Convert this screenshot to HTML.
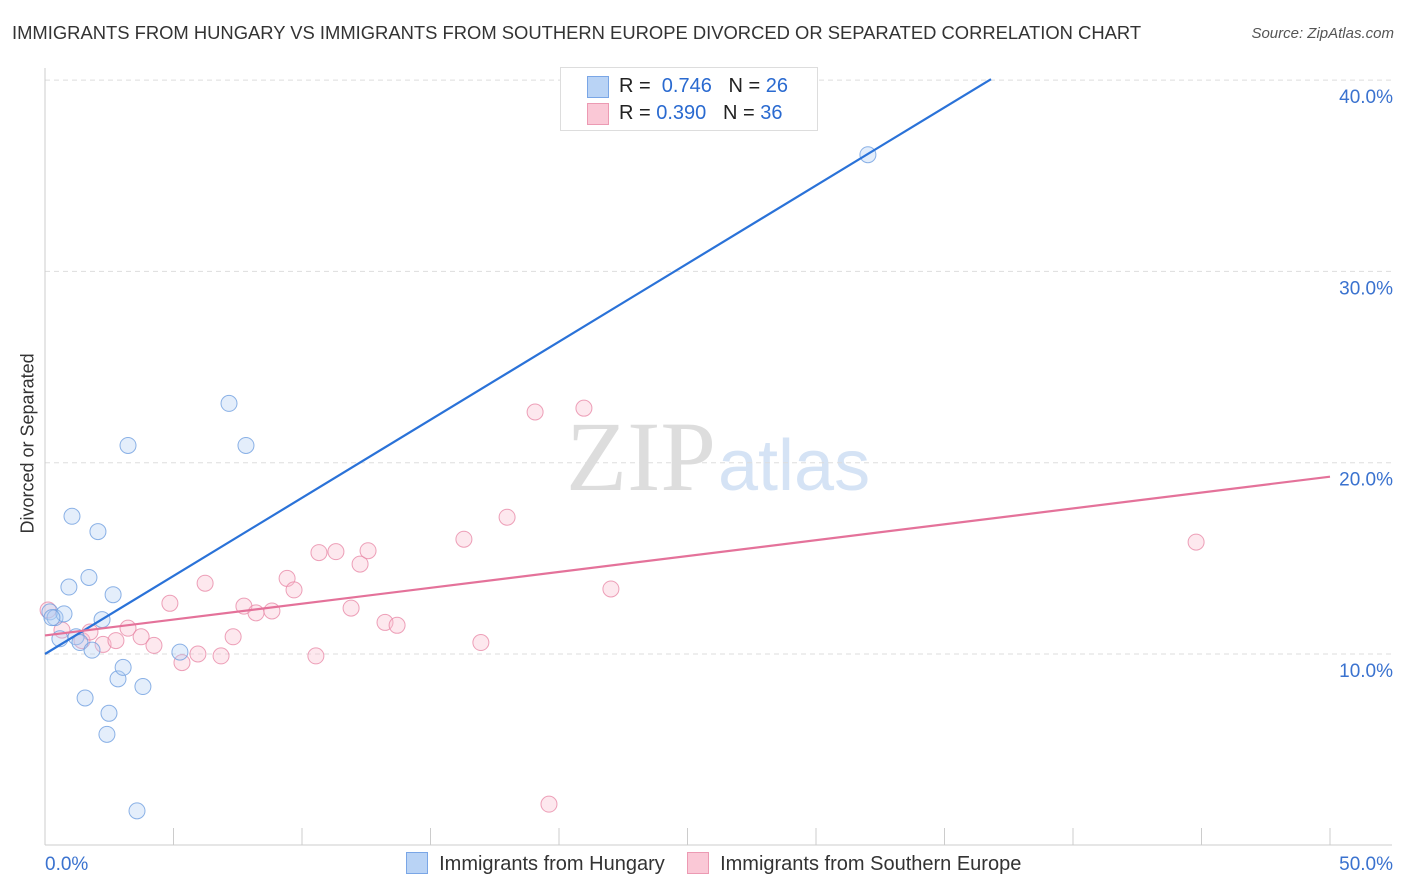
<!DOCTYPE html>
<html><head><meta charset="utf-8"><style>
body{margin:0;background:#fff;font-family:"Liberation Sans",sans-serif;}
#wrap{position:relative;width:1406px;height:892px;overflow:hidden;}
.t{position:absolute;white-space:nowrap;}
</style></head><body>
<div id="wrap">
<div class="t" style="left:12px;top:22px;font-size:18.4px;color:#333;">IMMIGRANTS FROM HUNGARY VS IMMIGRANTS FROM SOUTHERN EUROPE DIVORCED OR SEPARATED CORRELATION CHART</div>
<div class="t" style="right:12px;top:25px;font-size:15px;color:#555;font-style:italic;">Source: ZipAtlas.com</div>
<div class="t" style="left:-52px;top:443px;font-size:18px;color:#333;transform:rotate(-90deg);width:160px;text-align:center;">Divorced or Separated</div>
<svg id="svg" width="1406" height="892" style="position:absolute;left:0;top:0;">
<text x="716" y="490" font-size="100" fill="#ddd" font-family="Liberation Serif" text-anchor="end">ZIP</text>
<text x="718" y="490" font-size="72" fill="#d5e3f5" font-family="Liberation Sans">atlas</text>
</svg>
<div style="position:absolute;left:560px;top:67px;width:256px;height:62px;border:1px solid #ddd;background:#fff;">
<div style="position:absolute;left:26px;top:8px;width:20px;height:20px;background:#b9d3f5;border:1px solid #7aa6e6;"></div>
<div class="t" style="left:58px;top:7px;font-size:20px;color:#222;">R = <span style="color:#2a6ad0">&nbsp;0.746</span>&nbsp;&nbsp;&nbsp;N = <span style="color:#2a6ad0">26</span></div>
<div style="position:absolute;left:26px;top:35px;width:20px;height:20px;background:#fac8d6;border:1px solid #ec9ab3;"></div>
<div class="t" style="left:58px;top:34px;font-size:20px;color:#222;">R = <span style="color:#2a6ad0">0.390</span>&nbsp;&nbsp;&nbsp;N = <span style="color:#2a6ad0">36</span></div>
</div>
<div style="position:absolute;left:406px;top:852px;font-size:20px;color:#333;white-space:nowrap;">
<span style="display:inline-block;width:20px;height:20px;background:#b9d3f5;border:1px solid #7aa6e6;vertical-align:-4px;"></span>&nbsp; Immigrants from Hungary&nbsp;&nbsp;&nbsp;&nbsp;<span style="display:inline-block;width:20px;height:20px;background:#fac8d6;border:1px solid #ec9ab3;vertical-align:-4px;"></span>&nbsp; Immigrants from Southern Europe</div>
</div>
<script>
const blueX=[0.19,0.39,0.58,0.74,0.93,1.05,1.21,1.36,1.56,1.71,1.83,2.06,2.22,2.41,2.49,2.65,2.84,3.04,3.23,3.58,3.81,5.25,7.16,7.82,32.02,0.27];
const blueY=[12.2,11.9,10.8,12.1,13.5,17.2,10.9,10.6,7.7,14.0,10.2,16.4,11.8,5.8,6.9,13.1,8.7,9.3,20.9,1.8,8.3,10.1,23.1,20.9,36.1,11.9];
const pinkX=[0.12,0.66,1.44,1.75,2.26,2.76,3.23,3.74,4.24,4.86,5.33,5.95,6.23,6.85,7.32,7.74,8.21,8.83,9.42,9.69,10.54,10.66,11.32,11.91,12.26,12.57,13.23,13.70,16.30,16.96,17.98,19.07,19.61,20.97,22.02,44.79];
const pinkY=[12.3,11.25,10.7,11.15,10.5,10.7,11.35,10.9,10.45,12.65,9.55,10.0,13.7,9.9,10.9,12.5,12.15,12.25,13.95,13.35,9.9,15.3,15.35,12.4,14.7,15.4,11.65,11.5,16.0,10.6,17.15,22.65,2.15,22.85,13.4,15.85];
const blueFit=[10.0,0.815];
const pinkFit=[10.97,0.166];
const yTicks=[10,20,30,40];
const yTickLabels=["10.0%","20.0%","30.0%","40.0%"];
const xTickVals=[0,5,10,15,20,25,30,35,40,45,50];
const xLabels=["0.0%","50.0%"];
const X=v=>45+v*25.7, Y=v=>654-(v-10)*19.13;
const svg=document.getElementById('svg'),NS='http://www.w3.org/2000/svg';
function mk(t,a){const e=document.createElementNS(NS,t);for(const k in a)e.setAttribute(k,a[k]);svg.appendChild(e);return e;}
yTicks.forEach((v,i)=>{
 const l=mk('line',{x1:45,x2:1392,y1:Y(v),y2:Y(v),stroke:'#ddd','stroke-dasharray':'5,4'});
 
 
 const t=mk('text',{x:1393,y:Y(v)+23,'font-size':19,fill:'#3a72cf','text-anchor':'end'});t.textContent=yTickLabels[i];
 
 
});
let ax=mk('line',{x1:45,x2:1392,y1:845,y2:845,stroke:'#ccc'});


let ay=mk('line',{x1:45,x2:45,y1:68,y2:845,stroke:'#ccc'});


xTickVals.forEach(v=>{const l=mk('line',{x1:X(v),x2:X(v),y1:828,y2:845,stroke:'#ccc'});
 
 });
[[xLabels[0],45,'start'],[xLabels[1],1393,'end']].forEach(a=>{const t=mk('text',{x:a[1],y:870,'font-size':19,fill:'#3a72cf','text-anchor':a[2]});t.textContent=a[0];
 
 });
function pts(xs,ys,fill,stroke,name){xs.forEach((x,i)=>{const c=mk('circle',{cx:X(x),cy:Y(ys[i]),r:8,fill:fill,'fill-opacity':0.35,stroke:stroke,'stroke-opacity':0.8,'stroke-width':1});
 
 });}
pts(pinkX,pinkY,'#f8bccd','#e88aa8','point-southern-europe');
pts(blueX,blueY,'#b3cff3','#6f9fe0','point-hungary');
const bx2=(40-blueFit[0])/blueFit[1];
let bl=mk('line',{x1:X(0),y1:Y(blueFit[0]),x2:X(bx2),y2:Y(40.05),stroke:'#2a72d8','stroke-width':2.2});


let pl=mk('line',{x1:X(0),y1:Y(pinkFit[0]),x2:X(50),y2:Y(pinkFit[0]+50*pinkFit[1]),stroke:'#e4729a','stroke-width':2.2});


</script>
</body></html>
